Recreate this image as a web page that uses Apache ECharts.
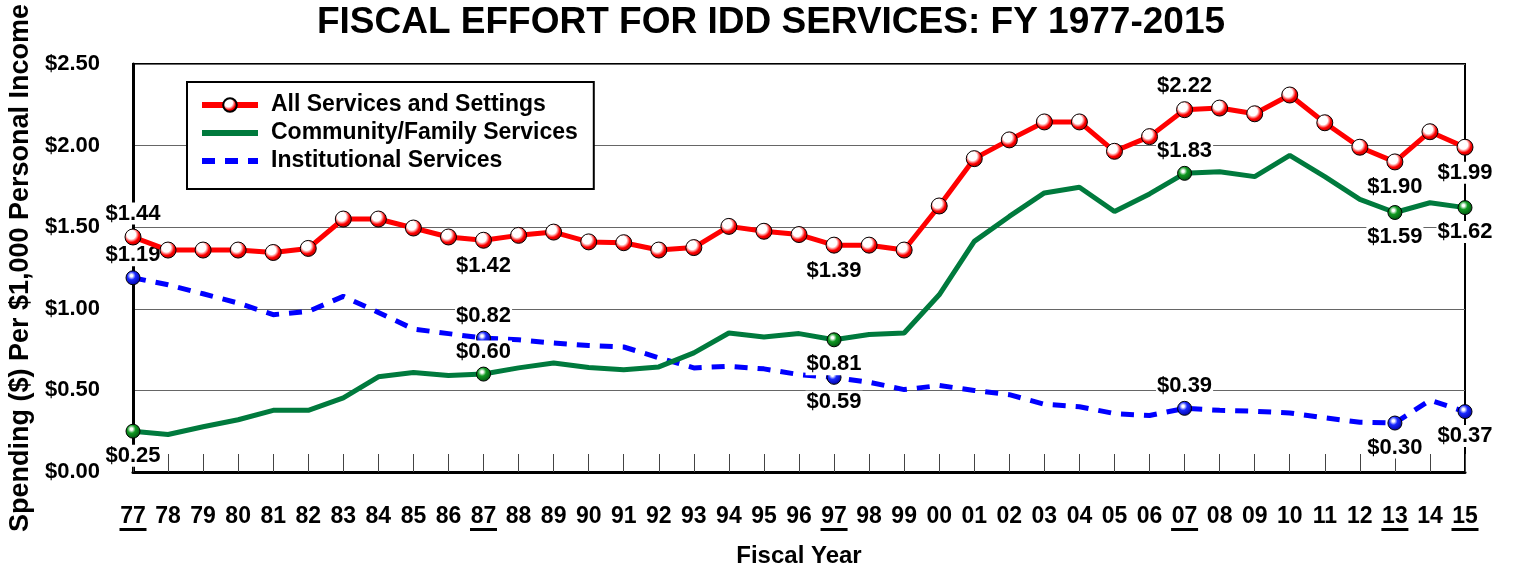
<!DOCTYPE html>
<html>
<head>
<meta charset="utf-8">
<script src="https://cdn.jsdelivr.net/npm/echarts@6/dist/echarts.min.js"></script>
<style>
  html, body { margin: 0; padding: 0; background: #fff; }
  #chart { width: 1513px; height: 567px; }
</style>
</head>
<body>
<div id="chart"></div>
<script>
// fiscal years (two-digit labels)
const years = ['77','78','79','80','81','82','83','84','85','86','87','88','89','90','91','92','93','94','95','96',
  '97','98','99','00','01','02','03','04','05','06','07','08','09','10','11','12','13','14','15'];

// spending per $1,000 personal income
const allServices = [1.44,1.36,1.36,1.36,1.345,1.37,1.55,1.55,1.495,1.44,1.42,1.45,1.47,1.41,1.405,1.36,1.375,1.505,1.475,1.455,
  1.39,1.39,1.36,1.63,1.92,2.035,2.145,2.145,1.965,2.055,2.22,2.23,2.195,2.31,2.14,1.99,1.90,2.085,1.99];
const community = [0.25,0.23,0.277,0.32,0.378,0.378,0.454,0.583,0.61,0.592,0.60,0.638,0.668,0.64,0.627,0.644,0.73,0.852,0.827,0.848,
  0.81,0.842,0.852,1.086,1.413,1.566,1.71,1.745,1.596,1.704,1.83,1.84,1.81,1.94,1.81,1.67,1.59,1.65,1.62];
const institutional = [1.19,1.147,1.092,1.035,0.964,0.984,1.076,0.978,0.876,0.848,0.82,0.81,0.79,0.775,0.766,0.70,0.638,0.648,0.632,0.597,
  0.58,0.55,0.505,0.53,0.50,0.474,0.415,0.40,0.358,0.346,0.39,0.378,0.372,0.362,0.332,0.305,0.30,0.44,0.37];

// years that get a value label (and are underlined on the axis)
const keyYears = ['77','87','97','07','13','15'];
const redLabels   = ['$1.44','$1.42','$1.39','$2.22','$1.90','$1.99'];
const greenLabels = ['$0.25','$0.60','$0.81','$1.83','$1.59','$1.62'];
const blueLabels  = ['$1.19','$0.82','$0.59','$0.39','$0.30','$0.37'];
const redLabelPos   = ['top','bottom','bottom','top','bottom','bottom'];
const greenLabelPos = ['bottom','top','bottom','top','bottom','bottom'];
const blueLabelPos  = ['top','top','bottom','top','bottom','bottom'];

const FONT = '"Liberation Sans", Arial, sans-serif';

// shaded "ball" marker fill
function ball(color, dark, white) {
  return {
    type: 'radial', x: 0.4, y: 0.36, r: 0.65,
    colorStops: [
      { offset: 0, color: '#ffffff' },
      { offset: white, color: '#ffffff' },
      { offset: Math.min(white + 0.3, 0.8), color: color },
      { offset: 1, color: dark }
    ]
  };
}

const valueLabel = {
  show: true,
  fontFamily: FONT,
  fontSize: 22,
  fontWeight: 'bold',
  color: '#000',
  backgroundColor: '#fff',
  padding: [0, 1]
};

// build series data; only key years carry a symbol and a label
function buildData(values, texts, positions, allSymbols) {
  return values.map((v, i) => {
    const k = keyYears.indexOf(years[i]);
    if (k < 0) {
      return allSymbols ? { value: v } : { value: v, symbol: 'none' };
    }
    return {
      value: v,
      symbol: 'circle',
      label: Object.assign({}, valueLabel, {
        formatter: texts[k],
        position: positions[k],
        distance: positions[k] === 'top' ? 4 : 6
      })
    };
  });
}

const chart = echarts.init(document.getElementById('chart'));

const hiddenMark = { color: 'rgba(0,0,0,0)', borderColor: 'rgba(0,0,0,0)', borderWidth: 0 };

const option = {
  animation: false,
  backgroundColor: '#fff',
  textStyle: { fontFamily: FONT },
  title: {
    text: 'FISCAL EFFORT FOR IDD SERVICES: FY 1977-2015',
    left: 766,
    top: -1,
    textAlign: 'center',
    textStyle: { fontFamily: FONT, fontSize: 37, fontWeight: 'bold', color: '#000' }
  },
  legend: {
    orient: 'vertical',
    left: 187,
    top: 82,
    padding: [11, 16, 16, 12],
    itemGap: 4,
    itemWidth: 56,
    itemHeight: 17,
    borderColor: '#000',
    borderWidth: 2,
    backgroundColor: '#fff',
    selectedMode: false,
    lineStyle: { width: 6 },
    textStyle: {
      fontFamily: FONT, fontSize: 23, fontWeight: 'bold', color: '#000',
      lineHeight: 24, padding: [0, 0, 0, 8]
    },
    data: [
      { name: 'All Services and Settings' },
      { name: 'Community/Family Services', itemStyle: hiddenMark },
      { name: 'Institutional Services', itemStyle: hiddenMark }
    ]
  },
  grid: {
    left: 133,
    right: 48,
    top: 64,
    bottom: 95,
    outerBoundsMode: 'none',
    show: true,
    borderColor: '#000',
    borderWidth: 2
  },
  xAxis: {
    type: 'category',
    data: years,
    boundaryGap: false,
    name: 'Fiscal Year',
    nameLocation: 'middle',
    nameGap: 72,
    nameTextStyle: { fontFamily: FONT, fontSize: 24, fontWeight: 'bold', color: '#000' },
    axisLine: { lineStyle: { color: '#000', width: 3 } },
    axisTick: { inside: true, length: 18, lineStyle: { color: '#444', width: 1 } },
    axisLabel: {
      interval: 0,
      margin: 34,
      color: '#000',
      formatter: v => keyYears.includes(v) ? '{n|' + v + '}\n{u| }' : '{n|' + v + '}',
      rich: {
        n: { fontFamily: FONT, fontSize: 23, fontWeight: 'bold', color: '#000', lineHeight: 22 },
        u: { width: 27, height: 3, lineHeight: 3, backgroundColor: '#000' }
      }
    },
    splitLine: { show: false }
  },
  yAxis: {
    type: 'value',
    min: 0,
    max: 2.5,
    interval: 0.5,
    name: 'Spending ($) Per $1,000 Personal Income',
    nameLocation: 'middle',
    nameRotate: 90,
    nameGap: 97,
    nameTextStyle: { fontFamily: FONT, fontSize: 27, fontWeight: 'bold', color: '#000' },
    axisLine: { show: true, lineStyle: { color: '#000', width: 3 } },
    axisTick: { show: false },
    axisLabel: {
      margin: 33,
      fontFamily: FONT, fontSize: 22, fontWeight: 'bold', color: '#000',
      formatter: v => '$' + v.toFixed(2)
    },
    splitLine: { lineStyle: { color: '#666', width: 1 } }
  },
  series: [
    {
      name: 'All Services and Settings',
      type: 'line',
      data: buildData(allServices, redLabels, redLabelPos, true),
      symbol: 'circle',
      symbolSize: 16,
      showAllSymbol: true,
      lineStyle: { color: '#ff0000', width: 5 },
      itemStyle: { color: ball('#ff0000', '#b00000', 0.4), borderColor: '#000', borderWidth: 1 },
      z: 4
    },
    {
      name: 'Community/Family Services',
      type: 'line',
      data: buildData(community, greenLabels, greenLabelPos, false),
      symbol: 'none',
      symbolSize: 14,
      showAllSymbol: true,
      lineStyle: { color: '#007a3d', width: 5 },
      itemStyle: { color: ball('#119a22', '#005010', 0.12), borderColor: '#000', borderWidth: 1 },
      z: 3
    },
    {
      name: 'Institutional Services',
      type: 'line',
      data: buildData(institutional, blueLabels, blueLabelPos, false),
      symbol: 'none',
      symbolSize: 14,
      showAllSymbol: true,
      lineStyle: { color: '#0000ff', width: 5, type: [13, 10] },
      itemStyle: { color: ball('#1a2aff', '#0000a0', 0.12), borderColor: '#000', borderWidth: 1 },
      z: 2
    }
  ]
};

chart.setOption(option);
</script>
</body>
</html>
